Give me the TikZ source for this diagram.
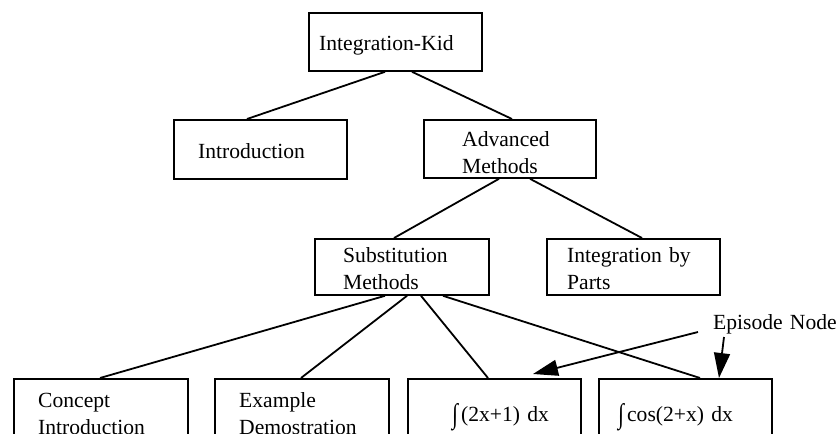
\documentclass[tikz,border=0pt]{standalone}
\usepackage{fontspec}
\setmainfont{Liberation Serif}
\usetikzlibrary{arrows.meta}

\tikzset{
  box/.style={draw, line width=1.8pt, rectangle, inner sep=0pt, anchor=north west},
  label/.style={inner sep=0pt, anchor=base west, align=left, text width=170pt,
    font=\fontsize{21.6}{27}\selectfont},
  link/.style={line width=1.8pt},
  pointer/.style={line width=1.8pt, -{Triangle[length=25pt,width=16pt]}}
}
% a taller integral sign
\newcommand\bigint{\raisebox{-2.5pt}{\scalebox{1}[1.3]{∫}}}

\begin{document}
\begin{tikzpicture}[x=1pt,y=-1pt]
  \clip (0,0) rectangle (839,434);

  % boxes of the tree
  \node[box, minimum width=173pt, minimum height=58pt] (kid)     at (308,12)  {};
  \node[box, minimum width=173pt, minimum height=59pt] (intro)   at (173,119) {};
  \node[box, minimum width=172pt, minimum height=58pt] (adv)     at (423,119) {};
  \node[box, minimum width=174pt, minimum height=56pt] (subst)   at (314,238) {};
  \node[box, minimum width=173pt, minimum height=56pt] (parts)   at (546,238) {};
  \node[box, minimum width=174pt, minimum height=90pt] (concept) at (13,378)  {};
  \node[box, minimum width=174pt, minimum height=90pt] (example) at (214,378) {};
  \node[box, minimum width=173pt, minimum height=90pt] (intA)    at (407,378) {};
  \node[box, minimum width=173pt, minimum height=90pt] (intB)    at (598,378) {};

  % box texts
  \node[label] (tkid)     at (319,50)  {Integration-Kid};
  \node[label] (tintro)   at (198,158) {Introduction};
  \node[label] (tadv)     at (462,146) {Advanced\\Methods};
  \node[label] (tsubst)   at (343,262) {Substitution\\Methods};
  \node[label] (tparts)   at (567,262) {Integration by\\Parts};
  \node[label] (tconcept) at (38,407)  {Concept\\Introduction};
  \node[label] (texample) at (239,407) {Example\\Demostration};
  \node[label] (tintA)    at (452,421) {\bigint\kern3pt(2x+1) dx};
  \node[label] (tintB)    at (618,421) {\bigint\kern3pt cos(2+x) dx};
  \node[label] (ep)       at (713,329) {Episode Node};

  % tree links
  \draw[link] ([xshift=77pt]kid.south west)   -- ([xshift=74pt]intro.north west);
  \draw[link] ([xshift=104pt]kid.south west)  -- ([xshift=89pt]adv.north west);
  \draw[link] ([xshift=76pt]adv.south west)   -- ([xshift=80pt]subst.north west);
  \draw[link] ([xshift=107pt]adv.south west)  -- ([xshift=96pt]parts.north west);
  \draw[link] ([xshift=71pt]subst.south west) -- ([xshift=87pt]concept.north west);
  \draw[link] ([xshift=93pt]subst.south west) -- ([xshift=87pt]example.north west);
  \draw[link] ([xshift=107pt]subst.south west) -- ([xshift=81pt]intA.north west);
  \draw[link] ([xshift=129pt]subst.south west) -- ([xshift=102pt]intB.north west);

  % pointers from the episode label
  \draw[pointer] ([xshift=-15pt,yshift=-3pt]ep.base west) -- ([xshift=126pt,yshift=4pt]intA.north west);
  \draw[pointer] ([xshift=11pt,yshift=-8pt]ep.base west)  -- ([xshift=121pt]intB.north west);
\end{tikzpicture}
\end{document}
